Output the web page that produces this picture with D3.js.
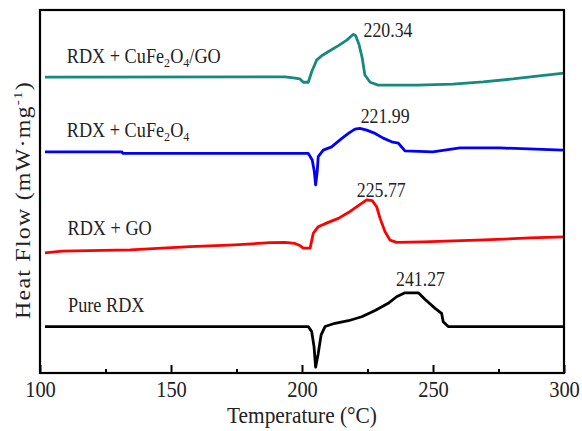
<!DOCTYPE html>
<html>
<head>
<meta charset="utf-8">
<script src="https://cdn.jsdelivr.net/npm/d3@7"></script>
<style>
  body { margin: 0; background: #fff; }
  text { font-family: "Liberation Serif", "Times New Roman", serif; fill: #222; }
</style>
</head>
<body>
<div id="chart"></div>
<script>
// temperature (°C), heat flow (arbitrary, curves stacked with offsets)
var pureRDX = [
  [101.9, 1.28], [197.3, 1.28], [202.4, 1.28], [203.7, 1.14], [204.6, 0.72], [205.2, 0.16],
  [206.2, 0.54], [207.3, 1.05], [208.8, 1.28], [212.6, 1.37], [217.7, 1.44], [222.8, 1.55],
  [227.9, 1.72], [232.9, 1.92], [236.1, 2.10], [239.3, 2.21], [244.4, 2.21], [246.9, 2.03],
  [250.8, 1.78], [253.3, 1.64], [253.9, 1.41], [255.8, 1.28], [300.0, 1.28]
]
var rdxGO = [
  [101.9, 3.31], [108.4, 3.36], [134.4, 3.39], [157.3, 3.48], [174.4, 3.53], [187.8, 3.59],
  [193.5, 3.60], [197.3, 3.57], [199.2, 3.51], [200.5, 3.44], [203.1, 3.44], [204.3, 3.85],
  [206.2, 4.03], [210.0, 4.15], [213.9, 4.26], [217.7, 4.42], [221.5, 4.61], [224.7, 4.77],
  [226.8, 4.75], [228.5, 4.58], [229.8, 4.26], [231.7, 3.89], [233.6, 3.66], [236.1, 3.60],
  [246.2, 3.61], [266.8, 3.66], [287.0, 3.72], [300.0, 3.75]
]
var rdxCuFe = [
  [101.9, 6.09], [131.3, 6.09], [131.6, 6.05], [202.4, 6.05], [203.9, 5.87], [204.7, 5.55],
  [205.2, 5.18], [205.8, 5.55], [206.2, 5.96], [208.1, 6.14], [211.3, 6.23], [214.5, 6.42],
  [217.7, 6.60], [220.2, 6.72], [222.1, 6.74], [224.7, 6.69], [227.9, 6.60], [231.0, 6.47],
  [234.2, 6.37], [236.8, 6.33], [239.3, 6.12], [249.9, 6.09], [260.3, 6.20], [275.6, 6.20],
  [299.6, 6.14]
]
var rdxCuFeGO = [
  [101.9, 8.15], [193.5, 8.16], [196.7, 8.13], [199.2, 8.10], [200.5, 8.01], [202.4, 8.01],
  [203.7, 8.30], [205.6, 8.62], [207.5, 8.74], [210.0, 8.85], [213.9, 9.02], [217.1, 9.17],
  [219.6, 9.33], [220.5, 9.29], [221.8, 9.04], [223.0, 8.67], [224.0, 8.21], [226.0, 8.01],
  [229.1, 7.93], [243.9, 7.93], [257.6, 7.96], [269.1, 8.02], [280.5, 8.10], [289.7, 8.18],
  [300.0, 8.26]
]

var names = ['Pure RDX', 'RDX + GO', 'RDX + CuFe{2}O{4}', 'RDX + CuFe{2}O{4}/GO']
var peaks = ['241.27', '225.77', '221.99', '220.34']
var xTicks = [100, 150, 200, 250, 300]
var minorTicks = [125, 175, 225, 275]

var series = [pureRDX, rdxGO, rdxCuFe, rdxCuFeGO]
var colors = ['#000000', '#ff0000', '#0000ff', '#17897f']

draw(d3.select('#chart'))

function draw (el) {
  var w = 582
    , h = 431
    , pl = 40, pr = 564, pt = 10, pb = 373
    , sx = 0.89   // the original figure is squeezed sideways

  var svg = el.append('svg').attr('width', w).attr('height', h)

  var x = d3.scaleLinear().domain([100, 300]).range([pl, pr])
  var y = d3.scaleLinear().domain([0, 10]).range([pb, pt])

  var line = d3.line()
    .x(function (d) { return x(d[0]) })
    .y(function (d) { return y(d[1]) })

  svg.selectAll('path.curve').data(series)
    .enter().append('path')
    .attr('class', 'curve')
    .attr('d', line)
    .attr('fill', 'none')
    .attr('stroke', function (d, i) { return colors[i] })
    .attr('stroke-width', 2.8)
    .attr('stroke-linejoin', 'round')

  // ticks point inward
  var ax = svg.append('g').attr('transform', 'translate(0,' + pb + ')')
    .call(d3.axisBottom(x).tickValues(xTicks).tickSize(-8).tickPadding(8).tickSizeOuter(0))
  ax.select('.domain').remove()
  ax.selectAll('line').attr('stroke', '#000').attr('stroke-width', 2)
  ax.selectAll('text').attr('font-size', 23).attr('fill', '#222')
    .attr('transform', 'scale(' + sx + ',1)')
    .style('font-family', '"Liberation Serif", serif')

  var mx = svg.append('g').attr('transform', 'translate(0,' + pb + ')')
    .call(d3.axisBottom(x).tickValues(minorTicks).tickSize(-4).tickFormat(''))
  mx.select('.domain').remove()
  mx.selectAll('line').attr('stroke', '#000').attr('stroke-width', 2)

  svg.append('rect')
    .attr('x', pl).attr('y', pt)
    .attr('width', pr - pl).attr('height', pb - pt)
    .attr('fill', 'none').attr('stroke', '#000').attr('stroke-width', 2.2)

  function place (px, py) {
    return 'translate(' + px + ',' + py + ') scale(' + sx + ',1)'
  }

  // curve names, {n} = subscript
  var nameAt = [[110.7, 1.68], [110.5, 3.80], [110.2, 6.50], [110.2, 8.54]]
  svg.selectAll('text.name').data(names)
    .enter().append('text')
    .attr('class', 'name')
    .attr('transform', function (d, i) { return place(x(nameAt[i][0]), y(nameAt[i][1])) })
    .attr('font-size', 20.5)
    .each(function (d) {
      var t = d3.select(this), shift = 0
      d.split(/(\{\d\})/).forEach(function (s) {
        if (!s) return
        if (s[0] == '{') {
          t.append('tspan').attr('font-size', 13.5).attr('dy', 4 - shift).text(s.slice(1, -1))
          shift = 4
        } else {
          t.append('tspan').attr('dy', -shift).text(s)
          shift = 0
        }
      })
    })

  var peakAt = [[235.9, 2.40], [220.9, 4.85], [222.4, 6.90], [223.5, 9.25]]
  svg.selectAll('text.peak').data(peaks)
    .enter().append('text')
    .attr('class', 'peak')
    .attr('transform', function (d, i) { return place(x(peakAt[i][0]), y(peakAt[i][1])) })
    .attr('font-size', 20)
    .text(function (d) { return d })

  svg.append('text')
    .attr('transform', place((pl + pr) / 2, 423))
    .attr('text-anchor', 'middle').attr('font-size', 24)
    .text('Temperature (\u00b0C)')

  var yt = svg.append('text')
    .attr('transform', 'translate(30,200) scale(' + sx + ',1) rotate(-90)')
    .attr('text-anchor', 'middle').attr('font-size', 24)
    .attr('letter-spacing', 1.2)
  yt.append('tspan').text('Heat Flow (mW\u00b7mg')
  yt.append('tspan').attr('font-size', 15).attr('dy', -9).text('-1')
  yt.append('tspan').attr('dy', 9).text(')')
}
</script>
</body>
</html>
